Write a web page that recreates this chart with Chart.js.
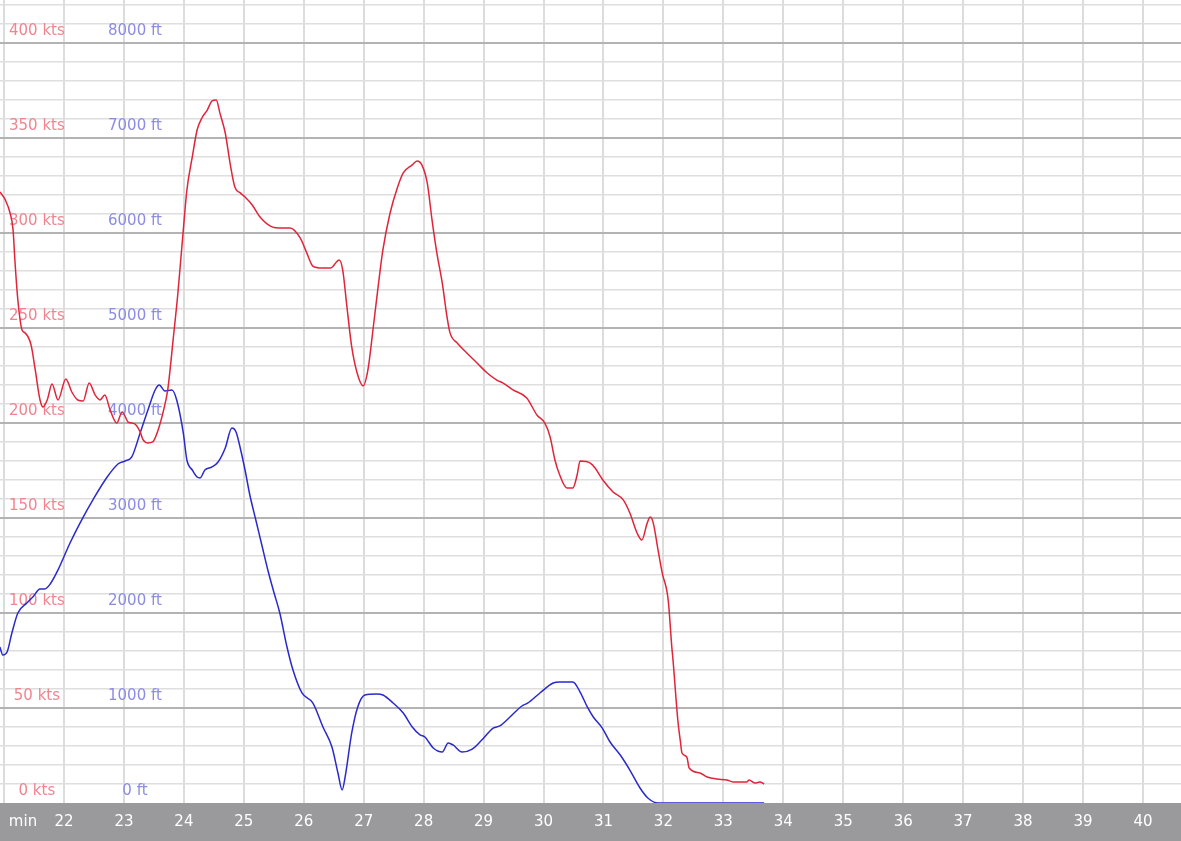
<!DOCTYPE html>
<html>
<head>
<meta charset="utf-8">
<script src="https://cdn.jsdelivr.net/npm/chart.js@4"></script>
<style>
  html, body { margin: 0; padding: 0; background: #fff; }
  #wrap { width: 1181px; height: 841px; }
</style>
</head>
<body>
<div id="wrap"><canvas id="flight" width="1181" height="841"></canvas></div>
<script>
// speed trace (minutes, kts)
const speedTime = [20.93, 21.02, 21.10, 21.15, 21.18, 21.23, 21.30, 21.35, 21.45, 21.52, 21.60, 21.65, 21.72, 21.80, 21.90,
  22.03, 22.13, 22.23, 22.32, 22.42, 22.52, 22.60, 22.68, 22.77, 22.88, 22.97, 23.07, 23.18, 23.27, 23.32, 23.40, 23.48,
  23.57, 23.65, 23.73, 23.82, 23.90, 23.99, 24.05, 24.14, 24.22, 24.30, 24.39, 24.47, 24.54, 24.60, 24.69, 24.77, 24.85,
  24.94, 25.02, 25.14, 25.27, 25.47, 25.60, 25.77, 25.94, 26.05, 26.15, 26.30, 26.45, 26.59, 26.65, 26.72, 26.80, 26.89,
  26.99, 27.07, 27.16, 27.24, 27.32, 27.44, 27.56, 27.66, 27.81, 27.89, 27.97, 28.06, 28.14, 28.22, 28.31, 28.39, 28.44,
  28.56, 28.72, 28.89, 29.06, 29.22, 29.32, 29.49, 29.72, 29.89, 30.02, 30.11, 30.19, 30.27, 30.39, 30.49, 30.56, 30.61,
  30.78, 30.86, 30.99, 31.16, 31.33, 31.44, 31.56, 31.64, 31.73, 31.78, 31.83, 31.91, 31.98, 32.08, 32.14, 32.16, 32.24,
  32.28, 32.31, 32.39, 32.43, 32.61, 32.73, 32.89, 33.06, 33.16, 33.39, 33.43, 33.53, 33.61, 33.68];
const speedKts = [321.6, 317.4, 310.5, 301.6, 285.8, 264.7, 248.9, 247.4, 241.1, 227.9, 212.1, 208.4, 212.1, 220.5, 212.1,
  223.2, 216.3, 212.1, 211.6, 221.1, 214.7, 212.1, 214.7, 206.8, 200.0, 205.8, 200.5, 199.5, 195.3, 191.1, 189.5, 190.0,
  196.3, 205.3, 217.4, 243.7, 268.4, 301.6, 322.6, 340.0, 354.2, 360.5, 364.7, 369.5, 370.0, 363.2, 352.6, 336.8, 324.2,
  321.1, 318.9, 314.7, 308.4, 303.2, 302.6, 302.6, 297.4, 289.5, 282.6, 281.6, 281.6, 285.8, 280.5, 261.1, 240.0, 226.3,
  219.5, 227.9, 250.5, 271.6, 291.1, 310.5, 323.7, 331.6, 335.8, 337.9, 335.8, 326.3, 306.8, 289.5, 273.7, 255.8, 247.4,
  242.1, 236.8, 231.6, 226.3, 222.6, 221.1, 217.4, 213.2, 204.2, 200.0, 192.6, 180.5, 172.6, 165.8, 165.8, 172.6, 180.0,
  178.9, 176.3, 170.0, 163.7, 159.5, 152.6, 142.1, 138.4, 147.4, 150.5, 147.4, 133.2, 121.1, 106.8, 82.1, 75.3, 43.7,
  33.2, 26.3, 24.2, 18.4, 15.8, 13.7, 12.6, 12.1, 11.1, 11.1, 12.1, 10.5, 11.1, 10.0];

// altitude trace (minutes, ft)
const altTime = [20.93, 20.98, 21.05, 21.13, 21.23, 21.38, 21.48, 21.60, 21.68, 21.77, 21.90, 22.10, 22.32, 22.48, 22.72,
  22.90, 23.02, 23.13, 23.27, 23.40, 23.52, 23.59, 23.68, 23.80, 23.88, 23.99, 24.05, 24.14, 24.22, 24.27, 24.35, 24.47,
  24.57, 24.69, 24.80, 24.87, 24.94, 25.02, 25.10, 25.20, 25.30, 25.40, 25.50, 25.60, 25.72, 25.82, 25.97, 26.15, 26.32,
  26.47, 26.57, 26.64, 26.69, 26.80, 26.90, 27.02, 27.22, 27.32, 27.49, 27.66, 27.81, 27.94, 28.02, 28.16, 28.31, 28.41,
  28.49, 28.64, 28.81, 28.97, 29.16, 29.27, 29.44, 29.64, 29.74, 29.94, 30.16, 30.27, 30.49, 30.61, 30.73, 30.83, 30.98,
  31.11, 31.28, 31.44, 31.61, 31.74, 31.91, 33.68];
const altFt = [1642, 1558, 1589, 1789, 2000, 2105, 2168, 2253, 2253, 2305, 2453, 2737, 3010, 3189, 3431,
  3568, 3600, 3642, 3895, 4137, 4347, 4400, 4337, 4347, 4242, 3895, 3610, 3505, 3431, 3421, 3505, 3537,
  3589, 3737, 3947, 3905, 3737, 3505, 3242, 2979, 2716, 2453, 2221, 2000, 1642, 1400, 1158, 1053, 800,
  589, 316, 137, 274, 737, 1011, 1137, 1147, 1137, 1053, 947, 800, 716, 695, 579, 537, 632,
  611, 537, 568, 663, 789, 811, 905, 1021, 1053, 1158, 1263, 1274, 1274, 1168, 1011, 905, 789,
  642, 505, 347, 158, 53, 0, 0];

// axes
const minuteRange = [20.932, 40.635];
const ktsMax = 422.6;
const ftMax = 8452;

function pairs(xs, ys) {
    return xs.map((x, i) => ({ x: x, y: ys[i] }));
}

Chart.defaults.font.family = "'DejaVu Sans', Verdana, sans-serif";
Chart.defaults.font.size = 15;

// gray band under the plot + "min" caption
const bandPlugin = {
    id: "band",
    beforeDraw(chart) {
        const c = chart.ctx;
        const xs = chart.scales.x;
        c.save();
        c.fillStyle = "#ffffff";
        c.fillRect(0, 0, chart.width, chart.height);
        c.fillStyle = "#9a999c";
        c.fillRect(0, xs.top, chart.width, chart.height - xs.top);
        c.fillStyle = "#ffffff";
        c.font = "15px 'DejaVu Sans', Verdana, sans-serif";
        c.textAlign = "center";
        c.textBaseline = "middle";
        c.fillText("min", 23, xs.top + 19);
        c.restore();
    }
};

function noPad(s) {
    s.paddingTop = 0;
    s.paddingBottom = 0;
    s.paddingLeft = 0;
    s.paddingRight = 0;
}

const ctx = document.getElementById("flight").getContext("2d");
new Chart(ctx, {
    type: "line",
    data: {
        datasets: [
            {
                label: "Speed",
                data: pairs(speedTime, speedKts),
                yAxisID: "y",
                borderColor: "#e0253a",
                borderWidth: 1.5,
                pointRadius: 0,
                cubicInterpolationMode: "monotone",
                fill: false
            },
            {
                label: "Altitude",
                data: pairs(altTime, altFt),
                yAxisID: "y2",
                borderColor: "#2a2acc",
                borderWidth: 1.5,
                pointRadius: 0,
                cubicInterpolationMode: "monotone",
                fill: false
            }
        ]
    },
    options: {
        responsive: false,
        animation: false,
        layout: { padding: 0 },
        plugins: {
            legend: { display: false },
            tooltip: { enabled: false }
        },
        scales: {
            x: {
                type: "linear",
                position: "bottom",
                min: minuteRange[0],
                max: minuteRange[1],
                border: { display: false },
                grid: { color: "#dcdcdc", lineWidth: 2, drawTicks: false },
                ticks: {
                    stepSize: 1,
                    includeBounds: false,
                    autoSkip: false,
                    maxRotation: 0,
                    padding: 10,
                    color: "#ffffff",
                    callback: v => (v < 22 ? "" : String(v))
                },
                afterFit(s) { s.height = 38; noPad(s); }
            },
            y: {
                type: "linear",
                position: "left",
                min: 0,
                max: ktsMax,
                border: { display: false },
                grid: {
                    drawTicks: false,
                    color: c => (c.tick.value === 0 ? "rgba(0,0,0,0)" : (c.tick.value % 50 === 0 ? "#b3b3b3" : "#dedede")),
                    lineWidth: c => (c.tick.value % 50 === 0 ? 2 : 1.5)
                },
                ticks: {
                    stepSize: 10,
                    maxTicksLimit: 100,
                    includeBounds: false,
                    autoSkip: false,
                    mirror: true,
                    crossAlign: "center",
                    padding: 9,
                    labelOffset: -12,
                    color: "#f08590",
                    callback: v => (v % 50 === 0 ? v + " kts" : "")
                },
                afterFit(s) { s.width = 0; noPad(s); }
            },
            y2: {
                type: "linear",
                position: "left",
                min: 0,
                max: ftMax,
                border: { display: false },
                grid: { display: false, drawOnChartArea: false, drawTicks: false },
                ticks: {
                    stepSize: 100,
                    maxTicksLimit: 200,
                    includeBounds: false,
                    autoSkip: false,
                    mirror: true,
                    crossAlign: "center",
                    padding: 108,
                    labelOffset: -12,
                    color: "#8c8ce6",
                    callback: v => (Math.round(v) % 1000 === 0 ? Math.round(v) + " ft" : "")
                },
                afterFit(s) { s.width = 0; noPad(s); }
            }
        }
    },
    plugins: [bandPlugin]
});
</script>
</body>
</html>
